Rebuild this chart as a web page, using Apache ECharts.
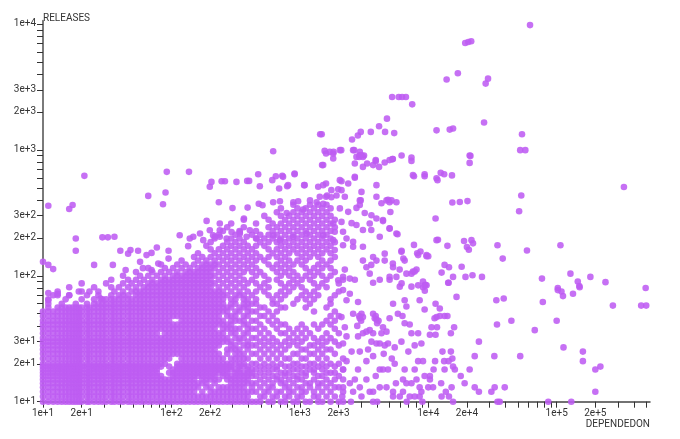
<!DOCTYPE html>
<html>
<head>
<meta charset="utf-8">
<script src="https://cdn.jsdelivr.net/npm/echarts@6/dist/echarts.min.js"></script>
<style>
  html, body { margin: 0; padding: 0; background: #fff; }
  #chart { width: 680px; height: 439px; }
</style>
</head>
<body>
<div id="chart"></div>
<script>
// labelled ticks on the two log axes
var xLabelValues = [10, 20, 100, 200, 1000, 2000, 10000, 20000, 100000, 200000];
var yLabelValues = [10, 20, 30, 100, 200, 300, 1000, 2000, 3000, 10000];

// dense part of the cloud, one row per releases value: [releases, [dependedOn...]]
var blobRows = [
    [10, [10,11,12,13,14,15,16,17,18,19,20,22,23,25,27,29,31,34,36,39,42,46,49,53,57,61,66,71,77,83,89,96,103,111,120,129,139,150,161,174,187,202,217,234,252,272,292,315,339,366,393,424,456,492,571,614,712,768,891,958,1111,1199,1391,1495,1735,2012,2172]],
    [11, [10,11,12,13,14,15,16,17,18,19,20,22,23,25,27,29,31,34,36,39,42,46,49,53,57,61,66,71,77,83,89,96,103,111,120,129,139,150,161,174,187,202,217,234,252,272,292,315,339,366,393,492,529,614,662,768,826,958,1034,1289,1391,1614,1872]],
    [12, [10,11,12,13,14,15,16,17,18,19,20,22,23,25,27,29,31,34,36,39,42,46,49,53,57,61,66,71,77,83,89,96,103,111,120,129,139,150,174,202,217,234,252,272,292,315,339,366,393,424,456,529,571,662,712,826,891,1034,1111,1289,1495,1735,2172]],
    [13, [10,11,12,13,14,15,16,17,18,19,20,22,23,25,27,29,31,34,36,39,42,46,49,53,57,61,66,71,77,83,89,96,103,111,120,129,139,150,161,187,202,234,252,272,292,315,339,366,424,492,571,614,768,826,958,1034,1199,1391,1614,1872,2012]],
    [14, [10,11,12,13,14,15,16,17,18,19,20,22,23,25,27,29,31,34,36,39,42,46,49,53,57,61,66,71,77,83,89,96,103,111,120,129,139,150,161,174,187,217,292,315,339,366,393,424,456,529,614,712,768,891,1111,1199,1391,1495,1735]],
    [15, [10,11,12,13,14,15,16,17,18,19,20,22,23,25,27,29,31,34,36,39,42,46,49,53,57,61,66,71,77,83,89,96,103,111,120,129,139,150,174,187,202,217,234,272,292,315,339,366,393,492,571,662,712,826,958,1034,1289,1614,1872,2172]],
    [16, [10,11,12,13,14,15,16,17,18,19,20,22,23,25,27,29,31,34,36,39,42,46,49,53,57,61,66,71,77,83,103,111,120,129,139,150,161,174,187,202,217,252,272,292,315,339,366,393,424,456,529,614,662,768,891,958,1111,1391,1495,2012]],
    [17, [10,11,12,13,14,15,16,17,18,19,20,22,23,25,27,29,31,34,36,39,42,46,49,53,57,61,66,71,77,96,103,111,120,129,139,150,161,174,187,202,217,234,252,272,315,339,366,393,424,492,571,712,768,826,1034,1111,1289,1614,1735,1872]],
    [18, [10,11,12,13,14,15,16,17,18,19,20,22,23,25,27,29,31,34,36,39,42,46,49,53,57,61,66,71,77,103,111,120,129,139,150,161,174,187,202,217,234,252,272,292,315,339,393,424,456,529,614,662,891,958,1199,1289,1495,2172]],
    [19, [10,11,12,13,14,15,16,17,18,19,20,22,23,25,27,29,31,34,36,39,42,46,49,53,57,61,66,71,77,83,96,111,120,129,139,150,161,174,187,202,217,234,252,272,292,339,366,393,492,571,662,768,826,1034,1111,1391,1614,1872]],
    [20, [10,11,12,13,14,15,16,17,18,19,20,22,23,25,27,29,31,34,36,39,42,46,49,53,57,61,66,71,77,83,89,111,120,129,139,150,161,174,187,202,217,234,252,272,292,315,339,366,424,456,529,614,712,891,958,1199,1289,1495,1735,2012]],
    [22, [10,11,12,13,14,15,16,17,18,19,20,22,23,25,27,29,31,34,36,39,42,46,49,53,57,61,66,71,77,83,89,96,120,129,139,150,161,174,187,202,217,234,252,292,315,339,366,393,492,571,662,768,826,1034,1111,1391,1614,2172]],
    [24, [10,11,12,13,14,15,16,17,18,19,20,22,23,25,27,29,31,34,36,39,42,46,49,53,57,61,66,71,77,83,89,96,103,111,120,129,139,150,161,174,187,202,217,234,272,315,339,366,424,456,529,614,712,891,958,1199,1289,1495,1872]],
    [26, [10,11,12,13,14,15,16,17,18,19,20,22,23,25,27,29,31,34,36,39,42,46,49,53,57,61,66,71,77,83,89,96,103,111,120,129,139,150,161,174,187,202,217,272,292,315,339,393,492,571,662,768,1034,1111,1391,1614,1735]],
    [28, [10,11,12,13,14,15,16,17,18,19,20,22,23,25,27,29,31,34,36,39,42,46,49,53,57,61,66,71,77,83,89,96,103,111,120,129,139,150,161,174,187,202,217,234,292,315,366,393,424,456,529,614,712,826,958,1199,1289,1495,2012]],
    [30, [10,11,12,13,14,15,16,17,18,19,20,22,23,25,27,29,31,34,36,39,42,46,49,53,57,61,66,71,77,83,89,96,103,111,120,129,139,150,161,174,187,202,217,234,252,272,292,339,393,492,571,662,768,891,1034,1391,1614,1872]],
    [32, [10,11,12,13,14,15,16,17,18,19,20,22,23,25,27,29,31,34,36,39,42,46,49,53,57,61,66,71,77,83,89,96,103,111,120,129,139,150,161,174,187,202,217,234,252,272,315,339,366,424,456,529,614,826,958,1111,1289,1495,1735]],
    [35, [10,11,12,13,14,15,16,17,18,19,20,22,23,25,27,29,31,34,36,39,42,46,49,53,57,61,66,71,77,89,96,103,111,120,129,139,150,161,174,187,202,217,234,252,292,315,366,393,492,571,712,768,891,1034,1199,1614,2012]],
    [38, [10,11,12,13,14,15,16,17,18,19,20,22,23,25,27,29,31,34,36,39,42,46,49,53,57,61,66,71,77,83,89,96,103,111,120,129,139,150,161,174,187,202,217,252,272,292,315,339,393,424,456,529,662,826,958,1111,1391,1872]],
    [41, [10,11,12,13,14,15,16,17,18,19,20,22,23,25,27,29,31,34,36,39,42,46,49,53,57,61,66,71,77,83,89,96,103,111,120,129,139,150,161,174,187,202,217,234,252,272,292,366,393,492,614,712,768,1034,1289,1495,1735]],
    [44, [10,11,12,13,14,15,16,17,18,19,20,22,23,25,27,29,31,34,36,39,42,46,49,53,57,61,66,71,77,83,89,96,120,129,139,150,161,174,187,202,217,234,252,292,315,339,366,424,456,571,662,1614,1872]],
    [48, [10,11,12,13,14,15,16,17,18,19,20,22,23,25,27,29,31,34,36,39,42,46,49,53,57,61,66,71,77,83,89,96,103,111,120,129,139,150,161,174,187,202,217,234,272,292,315,366,393,492,529,614,1735,2012]],
    [52, [10,11,12,13,14,15,16,17,18,19,20,22,23,25,27,29,31,34,36,39,42,46,49,53,57,61,66,71,77,83,89,96,103,111,120,129,139,150,161,174,187,202,217,234,252,272,315,339,393,424,456,571,662,1289,1872]],
    [56, [11,13,14,15,16,17,18,19,20,22,23,25,27,29,31,34,36,39,42,46,49,53,57,61,66,71,77,83,89,96,103,111,120,129,139,150,161,174,187,202,217,234,252,272,292,339,366,393,492,529,712,768,1111,1614]],
    [60, [11,14,18,22,25,27,29,31,34,36,39,42,46,49,53,57,61,66,71,77,83,89,96,103,111,120,129,139,150,161,174,187,202,217,234,252,292,315,366,393,424,456,614,662,891,1199,1735]],
    [65, [11,15,20,25,29,31,34,36,39,42,46,49,53,57,61,66,71,77,83,89,96,103,111,120,129,139,150,161,174,187,202,217,234,252,292,315,366,393,456,614,712,958,1111,1289,1735]],
    [70, [12,16,22,27,34,39,42,46,53,57,61,66,71,77,83,89,96,103,111,120,129,139,150,161,174,187,202,217,234,252,272,315,339,366,424,571,662,768,1034,1199,1391,1872]],
    [75, [13,20,27,36,42,49,53,57,61,66,71,77,83,89,96,103,111,120,129,139,150,161,174,187,202,217,234,252,292,339,393,456,529,712,826,1111,1289,2012]],
    [81, [16,25,34,39,46,53,61,66,71,77,83,89,96,103,111,120,129,139,150,161,174,187,202,234,272,315,366,492,571,768,891,1034,1391,1614]],
    [87, [20,31,42,49,57,66,71,77,83,89,96,103,111,120,129,139,150,161,174,187,202,217,252,292,339,393,456,529,712,826,958,1289,1495,2012]],
    [93, [34,46,53,61,71,83,89,96,103,111,120,129,139,150,161,174,187,202,234,272,315,366,424,571,662,891,1034,1199,1614]],
    [100, [42,57,66,77,89,103,111,120,129,139,150,161,174,187,202,217,252,292,339,456,529,712,826,958,1111,1289,1495,1735]],
    [107, [53,71,83,96,111,129,139,150,161,174,187,202,234,272,315,366,424,492,662,768,891,1199,1391,1872]],
    [115, [66,89,103,120,139,161,174,187,202,217,252,292,339,393,456,614,712,826,1111,1289,1495,1735]],
    [123, [83,111,129,150,174,187,202,217,234,272,315,366,424,571,662,768,891,1034,1391,1614]],
    [132, [120,161,187,217,252,292,339,393,456,529,712,826,958,1111,1495,1735]],
    [141, [150,174,202,234,272,315,366,424,492,571,662,768,1034,1199,1391,1872]],
    [151, [161,217,252,292,339,393,456,614,712,826,958,1111,1289,1495,1735]],
    [162, [202,234,272,315,366,424,571,662,768,891,1034,1199,1391,1614]],
    [173, [187,252,292,339,393,456,529,712,826,958,1111,1289,1495,1735]],
    [185, [202,272,315,366,492,571,662,768,891,1034,1199,1391,1614,1872]],
    [198, [217,292,339,456,529,614,712,826,958,1111,1289,1495,1735]],
    [212, [234,315,424,492,571,662,768,891,1034,1199,1391,1614]],
    [227, [252,339,456,614,712,826,958,1111,1289,1495,1735]],
    [243, [272,366,571,662,768,891,1034,1199,1391,1614,1872]],
    [260, [292,456,614,712,826,958,1111,1289,1495,1735]],
    [279, [366,571,768,891,1034,1199,1391,1614,1872]],
    [299, [529,712,826,958,1111,1289,1495,1735]],
    [320, [662,891,1034,1199,1391,1614]],
    [343, [712,958,1111,1289,1495,1735]],
    [367, [891,1199,1391,1614]]
];

// loose packages left of 300 dependents: [dependedOn, releases]
var leftPoints = [
    [11,360],[16,339],[17,365],[21,622],[18,198],[18,158],[29,202],[32,202],[36,204],[25,122],[35,122],
    [10,129],[11,122],[12,113],[40,158],[46,150],[48,160],[55,158],[64,146],[70,152],[77,168],[57,129],
    [95,158],[95,137],[79,125],[70,111],[60,115],[44,111],[66,431],[90,459],[86,370],[92,669],[137,669],
    [116,210],[135,172],[148,204],[167,217],[177,192],[211,210],[238,204],[269,198],[205,557],[246,564],
    [261,564],[199,509],[139,198],[188,273],[238,260],[199,230],[218,204],[238,230],[294,223],[234,384],
    [299,345],[11,64],[13,70],[16,70],[19,75],[23,75],[28,66],[11,73],[13,72]
];

// upper middle, 300 to 10000 dependents
var upperPoints = [
    [620,975],[474,641],[650,618],[730,622],[910,641],[610,575],[690,494],[797,515],[1080,525],[321,557],
    [389,567],[403,567],[488,515],[1440,1330],[1480,1330],[1560,982],[1710,964],[1820,855],[1520,757],
    [1490,757],[1820,936],[2050,995],[2650,995],[2930,964],[3160,903],[2900,880],[3900,830],[5270,845],
    [6200,903],[7400,870],[5230,2630],[5890,2630],[6250,2630],[6700,2630],[7500,2300],[4770,1770],
    [4140,1540],[4610,1390],[5430,1360],[3570,1390],[2980,1390],[2830,1300],[2550,1210],[1600,935],
    [1830,964],[2100,995],[2930,907],[3100,880],[7400,818],[5300,845],[5000,830],[4580,794],[3900,814],
    [3720,757],[3340,780],[3100,733],[4140,733],[2680,780],[2760,880],[3020,907],[2600,995],[7740,618],
    [9370,641],[9370,618],[7600,630],[740,611],[910,650],[1090,525],[810,525],[1390,509],[1520,525],
    [1600,541],[1760,479],[1600,424],[1430,424],[2050,575],[2380,541],[2680,611],[2110,479],[2240,424],
    [2050,343],[2380,322],[2530,262],[2930,397],[2930,365],[3200,315],[3950,424],[3950,525],[4730,397],
    [5000,384],[5650,384],[3610,303],[3950,285],[4440,277],[5000,238],[5650,217],[4190,204],[5760,214],
    [5000,237],[4440,272],[5070,321],[4320,377],[4860,402],[5170,397],[3020,464],[2980,397],[2760,346],
    [2110,564],[2680,600],[1990,487],[3500,260],[3600,231],[3100,231],[2760,253],[1820,260],[2110,268],
    [2170,224],[1870,224],[2310,198],[2600,186],[2600,170],[3100,170],[1820,192],[1870,160],[2170,175],
    [392,348],[479,373],[512,363],[620,384],[700,391],[790,315],[890,384],[970,391],[1060,336],[1200,397],
    [1350,384],[1520,373],[1630,434],[1760,421],[1930,434],[341,217],[385,204],[460,198],[620,210],
    [700,192],[888,204],[1127,217],[1518,210],[341,223],[367,285],[408,230]
];

// lower middle, 2000 to 10000 dependents
var midPoints = [
    [3720,141],[3950,132],[3600,122],[4580,150],[4580,132],[5300,125],[5650,98],[3300,117],[3500,104],
    [3100,132],[2450,95],[2170,98],[1990,92],[2240,112],[6200,87],[7400,104],[7840,108],[7740,176],
    [8200,151],[8700,156],[9700,143],[10000,143],[6200,158],[6400,137],[6180,155],[6550,132],[5990,112],
    [6760,104],[5320,117],[5000,98],[7600,108],[8100,112],[9370,84],[8340,146],[9700,146],[2170,93],
    [2680,93],[3720,88],[4190,93],[5000,93],[6000,82],[7400,82],[9100,90],[2170,77],[2450,72],[2310,64],
    [2840,62],[3020,50],[2930,46],[3720,50],[3830,46],[3950,45],[3500,37],[3720,35],[3300,36],[4440,39],
    [5000,46],[5320,60],[6550,64],[6760,57],[8340,84],[8570,64],[9370,54],[6550,42],[7170,41],[7400,35],
    [8340,35],[8840,29],[7840,28],[6180,30],[5480,27],[4860,29],[4730,36],[4320,35],[4190,29],[4580,28],
    [3950,29],[3610,30],[3100,35],[2840,33],[2310,33],[2240,39],[2110,47],[2170,29],[2530,25],[2930,25],
    [3400,26],[3720,23],[3300,21],[2840,18],[2680,15],[2450,14],[2170,13],[2930,13],[2600,12],[3500,12],
    [3720,12],[4190,13],[4730,13],[5320,12],[6000,11],[6360,12],[7170,11],[7400,14],[8100,15],[8570,13],
    [8840,12],[6760,14],[6360,15],[8340,21],[9100,21],[7840,18],[6550,18],[5480,20],[4860,18],[4440,18],
    [4190,18],[2310,21],[2170,18],[2140,11],[3020,11],[3720,10],[5320,11],[8570,11],[7840,11],[9370,16],
    [2900,48],[3000,44],[3100,47],[3900,48],[4100,44],[4000,42],[2800,40],[2600,50],[5800,50],[6300,48],
    [7000,25],[5200,22],[4500,24],[3300,15],[3900,16],[5600,14],[4000,10],[2500,10],[6800,10],[9000,10]
];

// the long tail past 10000 dependents
var rightPoints = [
    [62000,9800],[19400,7070],[20500,7200],[21600,7300],[13900,3620],[17000,4060],[29200,3680],[28000,3360],
    [11600,1430],[14700,1450],[15600,1480],[27200,1650],[53700,1330],[52000,995],[57000,995],[21300,896],
    [21000,903],[21000,788],[334000,508],[53000,434],[51000,326],[11800,575],[12500,657],[13300,641],
    [15300,627],[11600,595],[15400,382],[17600,386],[20200,392],[11400,285],[11600,192],[11900,193],
    [14100,173],[19000,189],[21700,192],[22300,181],[20000,169],[20700,161],[34600,175],[38000,137],
    [58700,159],[107000,175],[76800,95],[128000,104],[146000,90],[150000,83],[183000,98],[240000,89],
    [493000,80],[102000,80],[26200,98],[22100,101],[19500,98],[18200,118],[15600,98],[14500,117],
    [13400,122],[12700,106],[14400,88],[9500,85],[9100,81],[455000,58],[498000,58],[274000,58],
    [151000,81],[134000,72],[112000,69],[109000,75],[102000,77],[78000,62],[38700,66],[33900,64],
    [44400,44],[34300,41],[67500,37],[100000,44],[24800,30],[113000,27],[160000,25],[160000,21],
    [200000,18],[219000,19],[200000,12],[52000,23],[32700,23],[23000,23],[21000,18],[39400,13],
    [32900,13],[31000,12],[24800,12],[23000,13],[34600,10],[36000,10],[86000,10],[130000,10],
    [19200,14],[17900,16],[16100,18],[15600,19],[16600,68],[15200,13],[14500,11],[15600,10],[13700,12],
    [12700,11],[12600,14],[13300,21],[14400,21],[13400,18],[15000,25],[15400,22],[15900,39],[15000,35],
    [13400,48],[14100,48],[12300,48],[11600,47],[11200,46],[11700,39],[10600,39],[10300,34],[11400,34],
    [11400,60],[12300,55],[9400,76],[9700,84],[14300,88],[12900,25],[11300,21],[11000,18],[10300,15],
    [10000,13],[10900,13],[10300,16]
];

// every 1..9 multiple inside the axis range gets a tick
function decadeTicks(min, max) {
    var ticks = [];
    for (var p = 1; p <= 1e6; p *= 10) {
        for (var m = 1; m < 10; m++) {
            var v = m * p;
            if (v >= min && v <= max) ticks.push(v);
        }
    }
    return ticks;
}

// 20000 -> "2e+4"
function sciLabel(value) {
    var e = Math.floor(Math.log10(value) + 1e-9);
    var m = Math.round(value / Math.pow(10, e));
    return m + 'e+' + e;
}

function buildPoints() {
    var points = [];
    blobRows.forEach(function(row) {
        row[1].forEach(function(x) {
            points.push([x, row[0]]);
        });
    });
    return points.concat(leftPoints, upperPoints, midPoints, rightPoints);
}

var xMin = 10, xMax = 533000;
var yMin = 10, yMax = 10620;

var labelStyle = { fontFamily: 'Roboto', fontSize: 10, color: '#333' };

var option = {
    animation: false,
    grid: { left: 43, right: 30, top: 20.7, bottom: 37.3 },
    xAxis: {
        type: 'log',
        logBase: 10,
        min: xMin,
        max: xMax,
        name: 'DEPENDEDON',
        nameLocation: 'end',
        nameGap: 0,
        nameTextStyle: {
            fontFamily: 'Roboto', fontSize: 10, color: '#333',
            align: 'right', verticalAlign: 'top', padding: [18, 0, 0, 0]
        },
        axisLine: { lineStyle: { color: '#444', width: 1.5 } },
        axisTick: { customValues: decadeTicks(xMin, xMax), length: 6, lineStyle: { color: '#333' } },
        axisLabel: Object.assign({ customValues: xLabelValues, formatter: sciLabel, margin: 7 }, labelStyle),
        splitLine: { show: false }
    },
    yAxis: {
        type: 'log',
        logBase: 10,
        min: yMin,
        max: yMax,
        name: 'RELEASES',
        nameLocation: 'end',
        nameGap: 2,
        nameTextStyle: {
            fontFamily: 'Roboto', fontSize: 10, color: '#333',
            align: 'left', verticalAlign: 'middle'
        },
        axisLine: { show: true, lineStyle: { color: '#7a7a7a', width: 2 } },
        axisTick: { show: true, customValues: decadeTicks(yMin, yMax), length: 6, lineStyle: { color: '#333' } },
        axisLabel: Object.assign({ customValues: yLabelValues, formatter: sciLabel, margin: 7 }, labelStyle),
        splitLine: { show: false }
    },
    series: [{
        type: 'scatter',
        data: buildPoints(),
        symbolSize: 6.6,
        silent: true,
        itemStyle: { color: '#be5cf2', opacity: 0.88 }
    }]
};

var chart = echarts.init(document.getElementById('chart'));
chart.setOption(option);
</script>
</body>
</html>
